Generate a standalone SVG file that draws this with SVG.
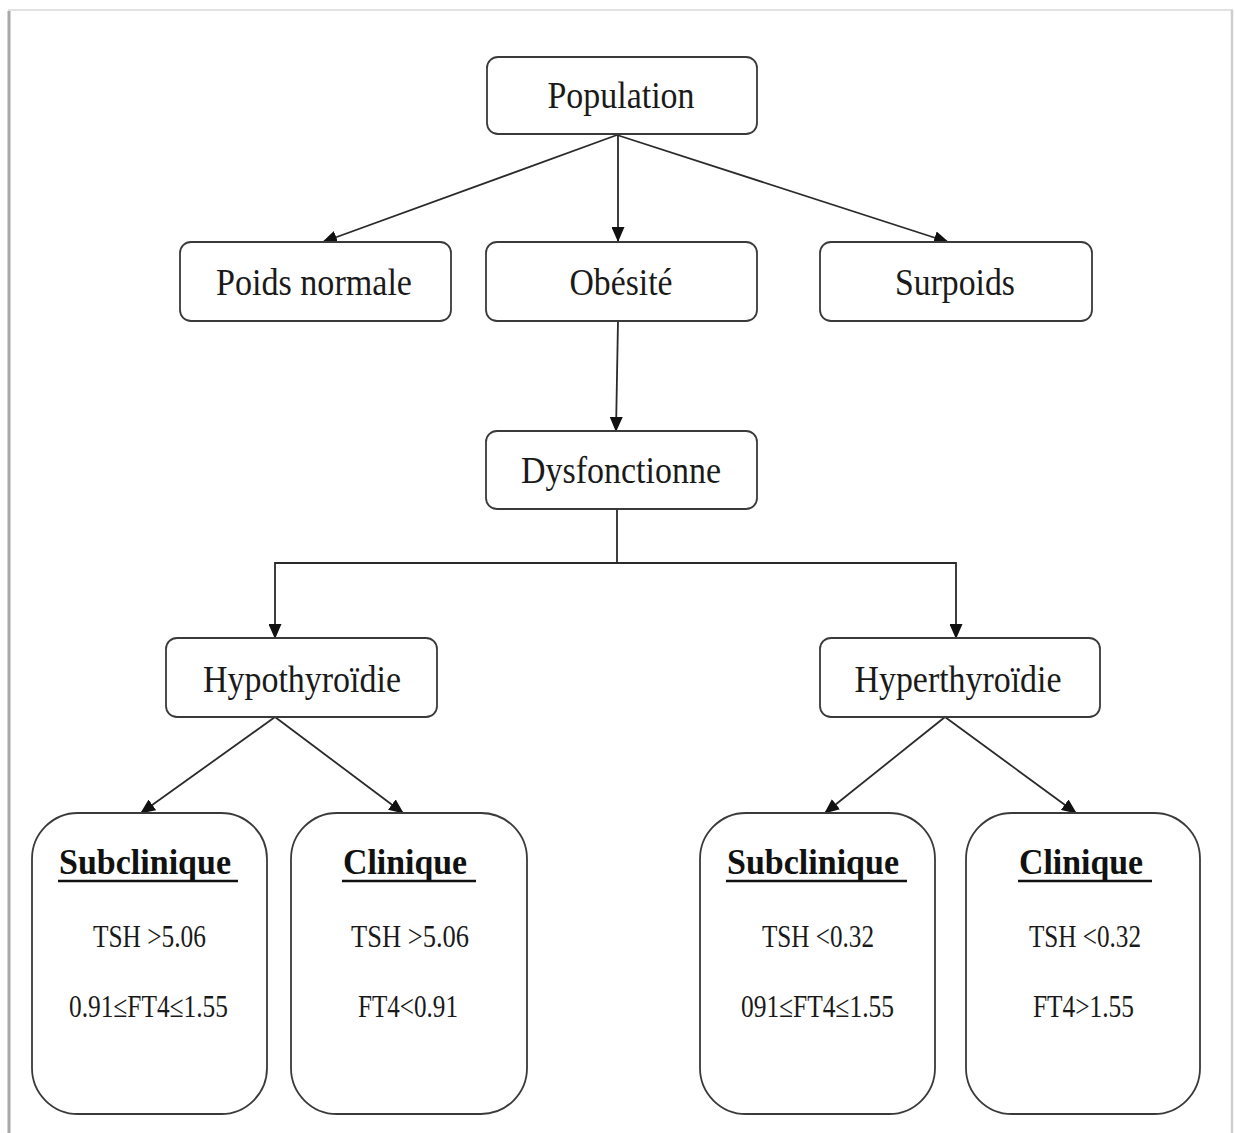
<svg xmlns="http://www.w3.org/2000/svg" width="1235" height="1133" viewBox="0 0 1235 1133">
  <style>
    .box { fill: #ffffff; stroke: #3a3a3a; stroke-width: 1.8; }
    .lbl { font-family: "Liberation Serif", "DejaVu Serif", serif; font-size: 38px; fill: #1a1a1a; text-anchor: middle; }
    .hd { font-family: "Liberation Serif", "DejaVu Serif", serif; font-size: 36px; font-weight: bold; fill: #111; }
    .val { font-family: "Liberation Serif", "DejaVu Serif", serif; font-size: 31px; fill: #1a1a1a; }
    .ul { stroke: #111; stroke-width: 2.6; }
    .edge { fill: none; stroke: #2a2a2a; stroke-width: 1.8; }
    .arrow { marker-end: url(#head); }
  </style>
  <defs>
    <marker id="head" markerUnits="userSpaceOnUse" markerWidth="15" markerHeight="13" viewBox="0 0 15 13" refX="14" refY="6.5" orient="auto">
      <path d="M0,0 L15,6.5 L0,13 z" fill="#111"/>
    </marker>
  </defs>

  <!-- page sheet -->
  <rect width="1235" height="1133" fill="#ffffff"/>
  <g id="sheet">
    <line x1="9" y1="11" x2="9" y2="1133" stroke="#a8a8a8" stroke-width="3"/>
    <line x1="8" y1="10" x2="1233" y2="10" stroke="#e2e2e2" stroke-width="2"/>
    <line x1="1232" y1="10" x2="1232" y2="1133" stroke="#cfcfcf" stroke-width="2.5"/>
  </g>

  <!-- connectors -->
  <g id="connectors">
    <line class="edge arrow" x1="617" y1="135" x2="323" y2="242"/>
    <line class="edge arrow" x1="618" y1="135" x2="618" y2="241"/>
    <line class="edge arrow" x1="617" y1="135" x2="948" y2="242"/>
    <line class="edge arrow" x1="618" y1="321" x2="616" y2="431"/>
    <path class="edge" d="M617,509 V563"/>
    <path class="edge arrow" d="M617,563 H275 V638"/>
    <path class="edge arrow" d="M617,563 H956 V638"/>
    <line class="edge arrow" x1="275" y1="717" x2="141" y2="813"/>
    <line class="edge arrow" x1="275" y1="717" x2="403" y2="813"/>
    <line class="edge arrow" x1="945" y1="717" x2="825" y2="813"/>
    <line class="edge arrow" x1="945" y1="717" x2="1076" y2="813"/>
  </g>

  <g id="population">
    <rect class="box" x="487" y="57" width="270" height="77" rx="11"/>
    <text class="lbl" x="621" y="108" textLength="147" lengthAdjust="spacingAndGlyphs">Population</text>
  </g>
  <g id="poids-normale">
    <rect class="box" x="180" y="242" width="271" height="79" rx="11"/>
    <text class="lbl" x="314" y="295" textLength="196" lengthAdjust="spacingAndGlyphs">Poids normale</text>
  </g>
  <g id="obesite">
    <rect class="box" x="486" y="242" width="271" height="79" rx="11"/>
    <text class="lbl" x="621" y="295" textLength="103" lengthAdjust="spacingAndGlyphs">Obésité</text>
  </g>
  <g id="surpoids">
    <rect class="box" x="820" y="242" width="272" height="79" rx="11"/>
    <text class="lbl" x="955" y="295" textLength="120" lengthAdjust="spacingAndGlyphs">Surpoids</text>
  </g>
  <g id="dysfonctionne">
    <rect class="box" x="486" y="431" width="271" height="78" rx="11"/>
    <text class="lbl" x="621" y="483" textLength="200" lengthAdjust="spacingAndGlyphs">Dysfonctionne</text>
  </g>
  <g id="hypothyroidie">
    <rect class="box" x="166" y="638" width="271" height="79" rx="11"/>
    <text class="lbl" x="302" y="692" textLength="198" lengthAdjust="spacingAndGlyphs">Hypothyroïdie</text>
  </g>
  <g id="hyperthyroidie">
    <rect class="box" x="820" y="638" width="280" height="79" rx="11"/>
    <text class="lbl" x="958" y="692" textLength="207" lengthAdjust="spacingAndGlyphs">Hyperthyroïdie</text>
  </g>

  <g id="hypo-subclinique">
    <rect class="box" x="32" y="813" width="235" height="301" rx="46"/>
    <text class="hd" x="59" y="874" textLength="172" lengthAdjust="spacingAndGlyphs">Subclinique</text>
    <line class="ul" x1="58" y1="881" x2="238" y2="881"/>
    <text class="val" x="93" y="947" textLength="113" lengthAdjust="spacingAndGlyphs">TSH &gt;5.06</text>
    <text class="val" x="69" y="1017" textLength="159" lengthAdjust="spacingAndGlyphs">0.91≤FT4≤1.55</text>
  </g>
  <g id="hypo-clinique">
    <rect class="box" x="291" y="813" width="236" height="301" rx="46"/>
    <text class="hd" x="343" y="874" textLength="124" lengthAdjust="spacingAndGlyphs">Clinique</text>
    <line class="ul" x1="342" y1="881" x2="476" y2="881"/>
    <text class="val" x="351" y="947" textLength="118" lengthAdjust="spacingAndGlyphs">TSH  &gt;5.06</text>
    <text class="val" x="358" y="1017" textLength="100" lengthAdjust="spacingAndGlyphs">FT4&lt;0.91</text>
  </g>
  <g id="hyper-subclinique">
    <rect class="box" x="700" y="813" width="235" height="301" rx="46"/>
    <text class="hd" x="727" y="874" textLength="172" lengthAdjust="spacingAndGlyphs">Subclinique</text>
    <line class="ul" x1="726" y1="881" x2="907" y2="881"/>
    <text class="val" x="762" y="947" textLength="112" lengthAdjust="spacingAndGlyphs">TSH &lt;0.32</text>
    <text class="val" x="741" y="1017" textLength="153" lengthAdjust="spacingAndGlyphs">091≤FT4≤1.55</text>
  </g>
  <g id="hyper-clinique">
    <rect class="box" x="966" y="813" width="234" height="301" rx="46"/>
    <text class="hd" x="1019" y="874" textLength="124" lengthAdjust="spacingAndGlyphs">Clinique</text>
    <line class="ul" x1="1018" y1="881" x2="1152" y2="881"/>
    <text class="val" x="1029" y="947" textLength="112" lengthAdjust="spacingAndGlyphs">TSH &lt;0.32</text>
    <text class="val" x="1033" y="1017" textLength="101" lengthAdjust="spacingAndGlyphs">FT4&gt;1.55</text>
  </g>
</svg>
